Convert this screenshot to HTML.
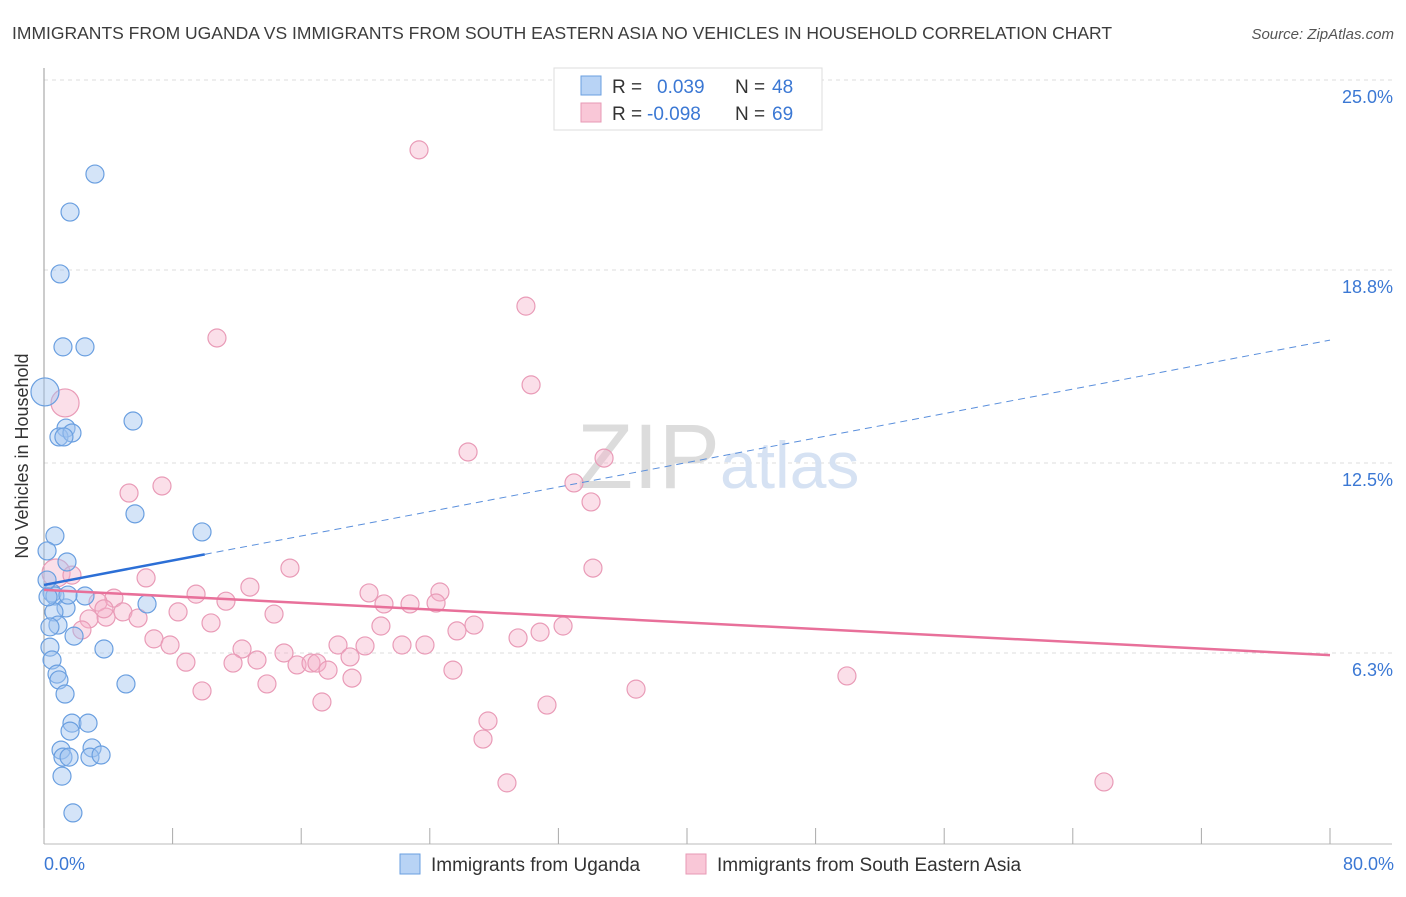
<!DOCTYPE html>
<html><head><meta charset="utf-8"><style>
body{margin:0;background:#fff;font-family:"Liberation Sans",sans-serif}
svg text{font-family:"Liberation Sans",sans-serif}
</style></head><body>
<svg width="1406" height="892" viewBox="0 0 1406 892">
<text x="12" y="39" font-size="17.5" fill="#3c3c3c">IMMIGRANTS FROM UGANDA VS IMMIGRANTS FROM SOUTH EASTERN ASIA NO VEHICLES IN HOUSEHOLD CORRELATION CHART</text>
<text x="1394" y="39" font-size="15" fill="#555" text-anchor="end" font-style="italic">Source: ZipAtlas.com</text>
<g id="grid"></g>
<text x="720" y="488" font-size="92" fill="#dcdcdc" text-anchor="end" font-family="Liberation Serif">ZIP</text>
<text x="720" y="488" font-size="66" fill="#d6e2f3">atlas</text>
<g id="points"></g>
<g id="lines"></g>
<text x="28" y="456" font-size="18" fill="#333" text-anchor="middle" transform="rotate(-90 28 456)">No Vehicles in Household</text>
<text x="44" y="870" font-size="18" fill="#3b78d4">0.0%</text>
<text x="1394" y="870" font-size="18" fill="#3b78d4" text-anchor="end">80.0%</text>
<g>
<rect x="554" y="68" width="268" height="62" fill="#fff" stroke="#ddd"/>
<rect x="581" y="76" width="20" height="19" fill="#b8d3f5" stroke="#6a9fe0"/>
<rect x="581" y="103" width="20" height="19" fill="#f9c7d7" stroke="#e79ab5"/>
<text x="612" y="93" font-size="19" fill="#333">R = </text><text x="657" y="93" font-size="19" fill="#3b78d4">0.039</text>
<text x="735" y="93" font-size="19" fill="#333">N = </text><text x="772" y="93" font-size="19" fill="#3b78d4">48</text>
<text x="612" y="120" font-size="19" fill="#333">R = </text><text x="647" y="120" font-size="19" fill="#3b78d4">-0.098</text>
<text x="735" y="120" font-size="19" fill="#333">N = </text><text x="772" y="120" font-size="19" fill="#3b78d4">69</text>
</g>
<g>
<rect x="400" y="854" width="20" height="20" fill="#b8d3f5" stroke="#6a9fe0"/>
<text x="431" y="871" font-size="19" fill="#333">Immigrants from Uganda</text>
<rect x="686" y="854" width="20" height="20" fill="#f9c7d7" stroke="#e79ab5"/>
<text x="717" y="871" font-size="19" fill="#333">Immigrants from South Eastern Asia</text>
</g>
</svg>
<script>
const yTicks=[25.0,18.8,12.5,6.3];
const yTickLabels=["25.0%","18.8%","12.5%","6.3%"];
const xTicks=[0,8,16,24,32,40,48,56,64,72,80];
const blueX=[3.17,1.62,1.0,1.18,2.55,0.06,5.54,1.37,0.93,1.74,1.24,5.66,9.83,0.68,0.19,1.43,0.5,0.68,2.55,6.41,1.37,0.62,0.87,0.37,1.87,3.73,0.37,0.5,0.81,0.93,1.31,5.1,1.74,2.74,1.62,1.06,2.99,1.18,1.56,2.86,3.55,1.12,1.8,0.19,0.25,1.49];
const blueY=[21.93,20.69,18.67,16.29,16.29,14.82,13.87,13.64,13.35,13.48,13.35,10.84,10.25,10.12,9.63,9.27,8.26,8.16,8.16,7.9,7.77,7.64,7.21,7.15,6.85,6.43,6.49,6.07,5.61,5.42,4.96,5.29,4.01,4.01,3.75,3.13,3.2,2.9,2.9,2.9,2.97,2.28,1.08,8.68,8.13,8.19];
const blueBig=[5];
const pinkX=[23.33,29.98,10.76,30.3,1.31,26.38,34.84,7.34,5.29,32.97,34.03,15.3,34.15,6.35,0.75,1.74,12.81,20.22,24.63,9.46,4.35,3.36,11.32,24.39,21.15,22.77,4.91,8.34,14.31,3.86,2.8,5.85,10.39,20.96,26.75,32.29,2.36,25.69,30.86,29.49,6.84,12.32,18.29,19.97,22.27,23.7,7.84,14.93,19.04,8.83,11.76,13.25,15.74,16.61,16.98,17.67,25.44,13.87,19.16,9.83,36.83,49.95,17.29,31.29,27.62,27.31,28.8,65.94,3.73];
const pinkY=[22.72,17.62,16.58,15.05,14.46,12.86,12.66,11.75,11.52,11.85,11.23,9.07,9.07,8.75,8.91,8.84,8.45,8.26,8.29,8.22,8.09,7.96,7.99,7.93,7.9,7.9,7.64,7.64,7.57,7.47,7.41,7.44,7.28,7.18,7.21,7.18,7.05,7.02,6.98,6.79,6.76,6.43,6.56,6.53,6.56,6.56,6.56,6.3,6.17,6.0,5.97,6.07,5.91,5.97,5.97,5.74,5.74,5.29,5.48,5.06,5.12,5.55,4.7,4.6,4.08,3.49,2.06,2.09,7.74];
const pinkBig=[4,14];
const blueTrend=[8.52,16.51];
const pinkTrend=[8.36,6.23];
const blueSolidEnd=10;
const NS='http://www.w3.org/2000/svg';
const xs=v=>44+v*16.075, ys=v=>80+(25-v)*30.64;
function mk(t,a,p){const e=document.createElementNS(NS,t);for(const k in a)e.setAttribute(k,a[k]);p.appendChild(e);return e;}
const grid=document.getElementById('grid');
yTicks.forEach((t,i)=>{
 const l=mk('line',{x1:44,x2:1392,y1:ys(t),y2:ys(t),stroke:'#ddd','stroke-dasharray':'4 4'},grid);
 
 
 const tx=mk('text',{x:1393,y:ys(t)+23,'font-size':18,fill:'#3b78d4','text-anchor':'end'},grid);
 tx.textContent=yTickLabels[i];
 
 
});
const ax=mk('line',{x1:44,x2:44,y1:68,y2:844,stroke:'#999'},grid);


const bx=mk('line',{x1:44,x2:1392,y1:844,y2:844,stroke:'#bbb'},grid);


xTicks.forEach(t=>{
 const l=mk('line',{x1:xs(t),x2:xs(t),y1:828,y2:844,stroke:'#aaa'},grid);
 
 
});
const pts=document.getElementById('points');
pinkX.forEach((x,i)=>{
 const c=mk('circle',{cx:xs(x),cy:ys(pinkY[i]),r:pinkBig.includes(i)?14:9,fill:'rgba(246,175,200,0.4)',stroke:'#e99bb7','stroke-width':1.2},pts);
 
 
});
blueX.forEach((x,i)=>{
 const c=mk('circle',{cx:xs(x),cy:ys(blueY[i]),r:blueBig.includes(i)?14:9,fill:'rgba(160,196,240,0.45)',stroke:'#6a9fe0','stroke-width':1.2},pts);
 
 
});
const ln=document.getElementById('lines');
const bAt=v=>blueTrend[0]+(blueTrend[1]-blueTrend[0])*v/80;
let l1=mk('line',{x1:xs(0),y1:ys(bAt(0)),x2:xs(blueSolidEnd),y2:ys(bAt(blueSolidEnd)),stroke:'#2c6fd6','stroke-width':2.5},ln);


let l2=mk('line',{x1:xs(blueSolidEnd),y1:ys(bAt(blueSolidEnd)),x2:xs(80),y2:ys(bAt(80)),stroke:'#5a8fdc','stroke-width':1,'stroke-dasharray':'7 5'},ln);


let l3=mk('line',{x1:xs(0),y1:ys(pinkTrend[0]),x2:xs(80),y2:ys(pinkTrend[1]),stroke:'#e8709a','stroke-width':2.5},ln);


</script>
</body></html>
